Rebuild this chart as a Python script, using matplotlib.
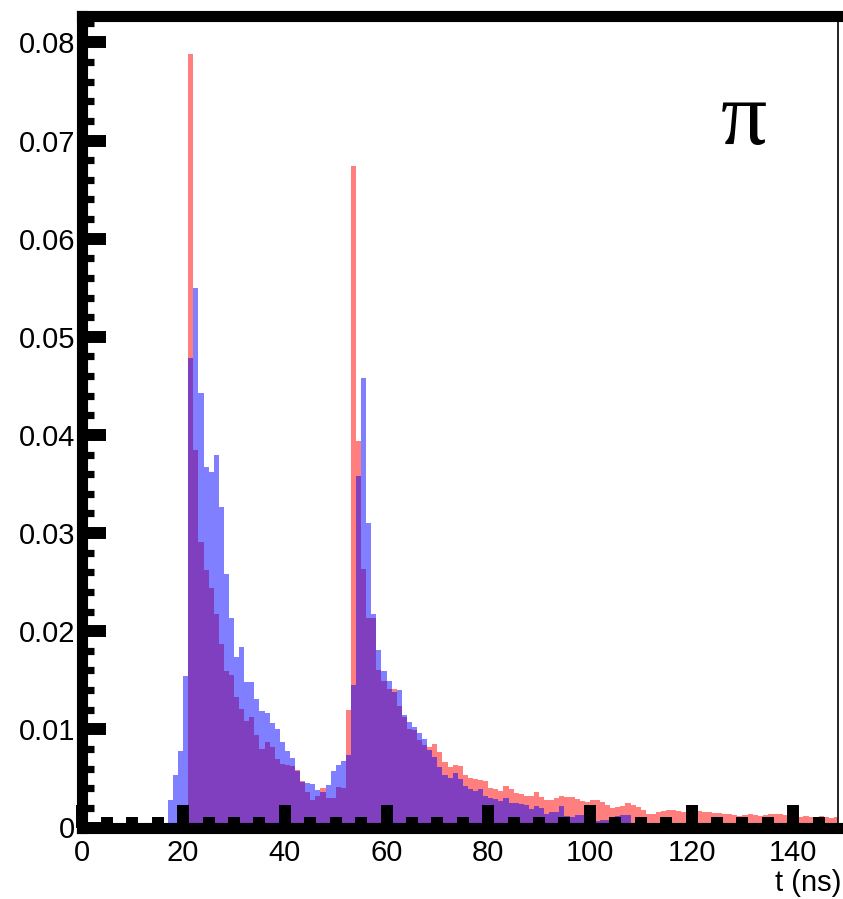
import numpy as np
import matplotlib
matplotlib.use("Agg")
import matplotlib.pyplot as plt
from matplotlib.ticker import MultipleLocator, FixedLocator, FixedFormatter

# ---- data (1 ns bins starting at t = 0) ----
bin_edges = np.arange(0, 150, 1)  # 0..149 -> 149 bins

red_vals = [0.0] * 21 + [
    0.0788, 0.0385, 0.0291, 0.0262, 0.0244, 0.0218, 0.0187, 0.0159, 0.0155, 0.0133,   # 21-30
    0.0121, 0.0109, 0.0113, 0.0094, 0.0080, 0.0087, 0.0082, 0.0070, 0.0065, 0.0064,   # 31-40
    0.0063, 0.0059, 0.0047, 0.0036, 0.0028, 0.0032, 0.0040, 0.0030, 0.0030, 0.0041,   # 41-50
    0.0040, 0.0120, 0.0674, 0.0394, 0.0263, 0.0214, 0.0213, 0.0160, 0.0149, 0.0141,   # 51-60
    0.0141, 0.0124, 0.0113, 0.0100, 0.0099, 0.0089, 0.0084, 0.0082, 0.0085, 0.0077,   # 61-70
    0.0067, 0.0062, 0.0064, 0.0063, 0.0054, 0.0050, 0.0049, 0.0048, 0.0047, 0.0040,   # 71-80
    0.0039, 0.0037, 0.0042, 0.0039, 0.0035, 0.0034, 0.0032, 0.0032, 0.0036, 0.0031,   # 81-90
    0.0028, 0.0028, 0.0030, 0.0032, 0.0031, 0.0031, 0.0029, 0.0027, 0.0026, 0.0028,   # 91-100
    0.0028, 0.0026, 0.0023, 0.0020, 0.0021, 0.0022, 0.0025, 0.0023, 0.0021, 0.0018,   # 101-110
    0.0014, 0.0014, 0.0016, 0.0017, 0.0018, 0.0018, 0.0017, 0.0016, 0.0015, 0.0016,   # 111-120
    0.0017, 0.0016, 0.0016, 0.0015, 0.0015, 0.0014, 0.0014, 0.0013, 0.0012, 0.0013,   # 121-130
    0.0014, 0.0013, 0.0012, 0.0013, 0.0014, 0.0014, 0.0014, 0.0013, 0.0013, 0.0012,   # 131-140
    0.0011, 0.0012, 0.0011, 0.0011, 0.0012, 0.0011, 0.0010, 0.0011,                   # 141-148
]

blue_vals = [0.0] * 17 + [
    0.0028, 0.0053, 0.0078, 0.0154,                                                    # 17-20
    0.0478, 0.0550, 0.0443, 0.0367, 0.0362, 0.0380, 0.0327, 0.0258, 0.0213, 0.0174,   # 21-30
    0.0184, 0.0148, 0.0148, 0.0131, 0.0119, 0.0117, 0.0106, 0.0100, 0.0087, 0.0078,   # 31-40
    0.0071, 0.0058, 0.0046, 0.0045, 0.0044, 0.0038, 0.0036, 0.0043, 0.0058, 0.0064,   # 41-50
    0.0068, 0.0074, 0.0145, 0.0358, 0.0458, 0.0310, 0.0218, 0.0181, 0.0159, 0.0149,   # 51-60
    0.0138, 0.0140, 0.0115, 0.0108, 0.0102, 0.0096, 0.0090, 0.0079, 0.0072, 0.0062,   # 61-70
    0.0054, 0.0050, 0.0056, 0.0049, 0.0042, 0.0039, 0.0037, 0.0039, 0.0032, 0.0030,   # 71-80
    0.0029, 0.0027, 0.0030, 0.0025, 0.0025, 0.0024, 0.0023, 0.0019, 0.0022, 0.0020,   # 81-90
    0.0014, 0.0016, 0.0016, 0.0022, 0.0012, 0.0011, 0.0013, 0.0013, 0.0010, 0.0009,   # 91-100
    0.0007, 0.0008, 0.0008, 0.0010, 0.0012, 0.0013, 0.0013, 0.0005, 0.0003, 0.0003,   # 101-110
    0.0003, 0.0003, 0.0003, 0.0003, 0.0003, 0.0003, 0.0005, 0.0005, 0.0005, 0.0005,   # 111-120
    0.0005, 0.0002, 0.0002, 0.0002, 0.0002, 0.0002, 0.0002, 0.0002, 0.0002, 0.0002,   # 121-130
    0.0002, 0.0002, 0.0002, 0.0002, 0.0002, 0.0002, 0.0002, 0.0002, 0.0002, 0.0002,   # 131-140
    0.0002, 0.0002, 0.0002, 0.0002, 0.0002, 0.0002, 0.0002, 0.0002,                   # 141-148
]

y_ticks = [0.0, 0.01, 0.02, 0.03, 0.04, 0.05, 0.06, 0.07, 0.08]
y_tick_labels = ["0", "0.01", "0.02", "0.03", "0.04", "0.05", "0.06", "0.07", "0.08"]
x_ticks = [0, 20, 40, 60, 80, 100, 120, 140]
x_tick_labels = ["0", "20", "40", "60", "80", "100", "120", "140"]
x_label = "t (ns)"
particle_label = "π"

# ---- figure ----
plt.rcParams['font.family'] = ['Liberation Sans', 'DejaVu Sans']
W, H = 843, 899
fig = plt.figure(figsize=(W / 100, H / 100), dpi=100)
L, R, T, B = 81.5, 838.0, 16.0, 827.5
ax = fig.add_axes([L / W, (H - B) / H, (R - L) / W, (B - T) / H])

ax.stairs(red_vals, bin_edges, fill=True, color=(1, 0, 0), alpha=0.5, linewidth=0)
ax.stairs(blue_vals, bin_edges, fill=True, color=(0, 0, 1), alpha=0.5, linewidth=0)

ax.set_xlim(0, 148.8)
ax.set_ylim(0, 0.0827)

ax.xaxis.set_major_locator(FixedLocator(x_ticks))
ax.xaxis.set_major_formatter(FixedFormatter(x_tick_labels))
ax.xaxis.set_minor_locator(MultipleLocator(5))
ax.yaxis.set_major_locator(FixedLocator(y_ticks))
ax.yaxis.set_major_formatter(FixedFormatter(y_tick_labels))
ax.yaxis.set_minor_locator(MultipleLocator(0.002))

ax.tick_params(axis='both', which='both', direction='in', colors='black',
               top=False, right=False)
ax.tick_params(axis='both', which='major', labelsize=21)
ax.tick_params(axis='y', which='major', length=17, width=8.6, pad=4.5)
ax.tick_params(axis='y', which='minor', length=8.3, width=5.2)
ax.tick_params(axis='x', which='major', length=16.5, width=8.6, pad=8.5)
ax.tick_params(axis='x', which='minor', length=8, width=8.6)

for side in ['left', 'bottom', 'top']:
    ax.spines[side].set_linewidth(8.0)
    ax.spines[side].set_color('black')
    ax.spines[side].set_capstyle('projecting')
ax.spines['right'].set_linewidth(1.2)
ax.spines['right'].set_color('black')

fig.text(744 / W, 1 - 122 / H, particle_label, fontsize=66, ha='center', va='center',
         family=['Liberation Serif', 'DejaVu Sans'])
fig.text(841 / W, 1 - 883 / H, x_label, fontsize=21, ha='right', va='center')

fig.savefig("out.png", dpi=100)
